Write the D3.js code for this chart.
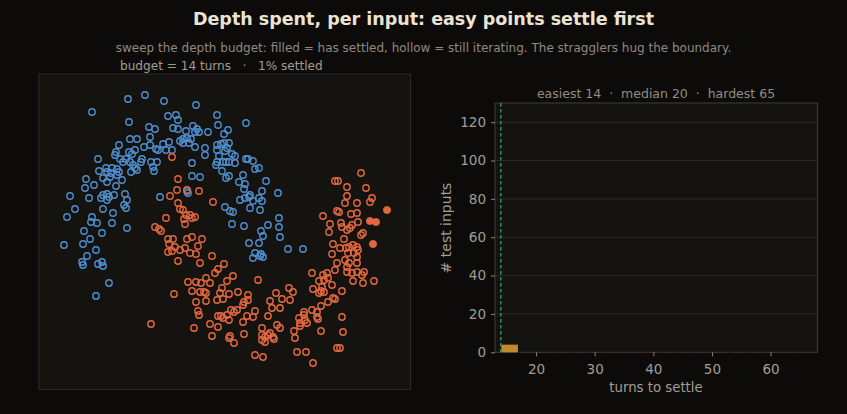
<!DOCTYPE html>
<html>
<head>
<meta charset="utf-8">
<script src="https://cdn.jsdelivr.net/npm/d3@7"></script>
<style>
html, body { margin: 0; background: #0c0b0a; }
svg { display: block; font-family: "DejaVu Sans", sans-serif; }
</style>
</head>
<body>
<svg id="chart" width="847" height="414"></svg>
<script>
// points of the two moons (feature units)
var classA = [ // blue moon, still iterating
  [-0.57,1.51],[-0.40,1.55],[-0.21,1.49],[0.11,1.45],[-0.93,1.38],[-0.17,1.34],[-0.09,1.35],[-0.07,1.30],[0.32,1.35],[-0.56,1.28],
  [0.33,1.25],[-0.36,1.23],[-0.30,1.21],[-0.12,1.22],[-0.07,1.21],[0.08,1.24],[0.12,1.21],[0.14,1.18],[0.10,1.18],[0.23,1.18],
  [0.01,1.19],[-0.55,1.11],[-0.48,1.11],[-0.35,1.13],[-0.02,1.11],[0.02,1.12],[0.06,1.11],[-0.05,1.09],[-0.02,1.07],[0.04,1.07],
  [0.10,1.03],[0.20,1.02],[0.32,1.05],[-0.66,1.05],[-0.41,1.03],[-0.35,1.05],[-0.29,1.01],[-0.27,1.00],[-0.22,1.06],[-0.19,1.00],
  [-0.16,1.08],[-0.13,1.00],[-0.56,0.98],[-0.50,1.00],[-0.69,0.98],[-0.70,0.95],[-0.65,0.91],[-0.59,0.91],[-0.62,0.88],[-0.53,0.96],
  [-0.55,0.88],[-0.43,0.91],[-0.44,0.88],[-0.34,0.88],[-0.32,0.83],[-0.31,0.79],[-0.28,0.88],[-0.52,0.85],[-0.50,0.82],[-0.54,0.78],
  [-0.48,0.80],[-0.87,0.91],[0.32,1.00],[0.32,0.88],[0.20,0.95],[0.07,0.87],[0.07,0.74],[0.15,0.73],[-0.86,0.79],[-0.79,0.82],
  [-0.73,0.82],[-0.68,0.81],[-0.78,0.78],[-0.74,0.77],[-0.66,0.78],[-0.82,0.72],[-0.75,0.73],[-0.68,0.75],[-0.63,0.70],[-0.99,0.71],
  [-1.00,0.62],[-0.91,0.65],[-0.78,0.68],[-0.69,0.64],[-1.15,0.54],[-0.96,0.52],[-0.84,0.52],[-0.82,0.55],[-0.78,0.56],[-0.76,0.53],
  [-0.78,0.50],[-0.71,0.55],[-0.60,0.56],[-0.58,0.50],[-0.82,0.41],[-1.10,0.41],[-1.18,0.33],[-0.93,0.33],[-0.94,0.28],[-0.88,0.27],
  [-0.72,0.37],[-0.73,0.27],[-0.61,0.45],[-0.59,0.42],[-0.25,0.53],[0.02,0.59],[0.03,0.57],
  [0.61,1.27],[0.39,1.16],[0.43,1.20],[0.36,1.06],[0.39,1.07],[0.44,1.07],[0.34,0.94],[0.40,0.99],[0.42,1.02],[0.47,0.96],
  [0.50,0.94],[0.31,0.85],[0.38,0.88],[0.41,0.88],[0.44,0.88],[0.50,0.87],[0.37,0.79],[0.41,0.72],[0.44,0.74],[0.58,0.75],
  [0.54,0.68],[0.60,0.66],[0.59,0.61],[0.61,0.91],[0.63,0.91],[0.68,0.89],[0.70,0.81],[0.74,0.82],[0.81,0.69],[0.77,0.59],
  [0.65,0.55],[0.55,0.50],[0.60,0.52],[0.64,0.53],[0.68,0.49],[0.74,0.52],[0.77,0.49],[0.93,0.57],[0.40,0.43],[0.45,0.39],
  [0.48,0.38],[0.65,0.42],[0.75,0.40],[0.47,0.26],[0.83,0.25],[0.94,0.32],
  [-0.58,0.22],[-1.01,0.19],[-0.83,0.17],[-0.95,0.11],[-1.21,0.05],[-1.02,0.06],[-0.89,0.00],[-0.98,-0.06],[-1.03,-0.12],[-1.02,-0.15],
  [-0.87,-0.14],[-0.83,-0.12],[-0.82,-0.16],[-0.76,-0.33],[-0.89,-0.46],
  [0.59,0.24],[0.76,0.19],[0.94,0.23],[0.95,0.13],[0.78,0.14],[0.64,0.07],[0.74,0.07],[1.03,0.01],[1.18,0.01],[0.70,-0.03],
  [0.68,-0.08],[0.76,-0.04],[0.78,-0.07],[0.75,-0.06]
];

var classB = [ // orange moon, still iterating
  [-0.13,0.93],[-0.07,0.71],[-0.08,0.60],[0.02,0.60],[0.14,0.59],[-0.15,0.54],[-0.07,0.47],[-0.05,0.41],[-0.02,0.40],[0.01,0.35],
  [0.05,0.35],[0.10,0.33],[0.07,0.32],[-0.01,0.31],[-0.19,0.32],[0.28,0.48],[0.00,0.26],
  [1.50,0.69],[1.53,0.69],[1.76,0.77],[1.62,0.63],[1.81,0.62],[1.62,0.54],[1.72,0.47],[1.60,0.47],[1.87,0.52],[1.85,0.48],
  [1.52,0.39],[1.54,0.38],[1.66,0.36],[1.72,0.37],[1.38,0.34],[1.45,0.26],[1.56,0.27],[1.67,0.25],[1.73,0.28],
  [-0.30,0.23],[-0.26,0.21],[-0.24,0.19],[-0.17,0.11],[-0.12,0.11],[-0.16,0.06],[-0.17,-0.02],[-0.13,-0.01],[-0.10,0.03],[-0.05,0.00],
  [0.00,0.02],[0.02,0.11],[0.07,0.13],[0.17,0.11],[0.13,0.04],[0.05,-0.03],[0.11,-0.04],[0.27,-0.06],[-0.07,-0.11],[0.15,-0.13],
  [0.33,-0.19],[0.30,-0.23],[0.03,-0.32],[0.11,-0.32],[0.21,-0.28],[0.16,-0.33],[0.25,-0.33],[0.07,-0.41],[0.15,-0.42],[0.19,-0.42],
  [0.21,-0.43],[-0.11,-0.44],[0.32,-0.50],[0.11,-0.52],[0.21,-0.51],[0.13,-0.61],[0.14,-0.65],[0.33,-0.66],[-0.34,-0.74],[0.09,-0.78],
  [0.25,-0.74],[0.33,-0.77],[0.27,-0.86],
  [0.39,-0.14],[0.48,-0.26],[0.42,-0.31],[0.37,-0.38],[0.35,-0.43],[0.38,-0.49],[0.44,-0.44],[0.53,-0.42],[0.63,-0.45],[0.63,-0.50],
  [0.59,-0.52],[0.58,-0.55],[0.73,-0.30],[0.85,-0.51],[0.91,-0.43],[0.97,-0.49],[1.04,-0.38],[1.08,-0.42],[1.05,-0.50],[0.95,-0.58],
  [0.87,-0.58],[0.83,-0.66],[0.70,-0.61],[0.68,-0.67],[0.62,-0.66],[0.58,-0.72],[0.52,-0.60],[0.49,-0.62],[0.46,-0.60],[0.42,-0.65],
  [0.38,-0.68],[0.36,-0.66],[0.44,-0.70],[0.45,-0.86],[0.44,-0.88],[0.49,-0.93],[0.59,-0.84],[0.77,-0.78],[0.85,-0.83],[0.77,-0.85],
  [0.80,-0.87],[0.83,-0.85],[0.92,-0.75],[0.95,-0.78],[0.88,-0.87],[0.89,-0.89],[0.77,-0.90],[0.80,-0.92],[0.70,-1.05],[0.78,-1.07],
  [1.09,-0.81],[1.10,-0.88],[1.15,-0.73],[1.19,-0.65],[1.20,-0.70],[1.22,-0.73],[1.15,-0.76],[1.14,-0.68],[1.19,-0.62],[1.27,-0.60],
  [1.32,-0.62],[1.32,-0.67],[1.33,-0.69],[1.36,-0.81],[1.28,-1.13],[1.12,-1.02],[1.21,-1.02],[1.52,-0.98],[1.55,-0.98],[1.57,-0.67],
  [1.58,-0.82],[1.27,-0.23],[1.34,-0.31],[1.39,-0.30],[1.38,-0.25],[1.42,-0.23],[1.43,-0.28],[1.47,-0.35],[1.47,-0.04],[1.48,0.06],
  [1.44,0.18],[1.57,0.23],[1.62,0.20],[1.65,0.22],[1.78,0.17],[1.76,0.15],[1.59,0.11],[1.55,0.02],[1.61,0.02],[1.64,0.03],
  [1.68,0.05],[1.72,0.03],[1.69,-0.03],[1.60,-0.10],[1.64,-0.13],[1.72,-0.13],[1.52,-0.13],[1.50,-0.20],[1.62,-0.22],[1.67,-0.23],
  [1.72,-0.22],[1.77,-0.25],[1.79,-0.22],[1.68,-0.31],[1.78,-0.33],[1.89,-0.31],[1.62,-0.17],[1.73,0.00],[1.63,-0.03],[1.72,-0.07],
  [1.48,-0.48],[1.50,-0.49],[1.36,-0.56],[1.37,-0.37],[1.34,-0.43],[1.28,-0.39],[1.36,-0.41],[1.39,-0.42],[1.57,-0.41],[1.43,-0.52]
];

var settledB = [[2.02,0.40],[1.85,0.29],[1.91,0.28],[1.88,0.06]]; // filled = has settled

var scatterX = [-1.46, 2.255];
var scatterY = [-1.395, 1.76];

// histogram of turns to settle (only settled inputs so far)
var binEdges = [14,17,20,23,26,29,32,35,38,41,44,47,50,53,56,59,62,65];
var binCounts = [4,0,0,0,0,0,0,0,0,0,0,0,0,0,0,0,0];
var budget = 14;
var histX = [13, 68];
var histY = [0, 130];
var xTicks = [20,30,40,50,60];
var yTicks = [0,20,40,60,80,100,120];
var stats = { easiest: 14, median: 20, hardest: 65 };

var blue = "#4d8fd1", orange = "#e2673f";
var svg = d3.select("#chart");

// titles
svg.append("text")
    .attr("x", 423.5).attr("y", 25).attr("text-anchor", "middle")
    .attr("font-size", 17.5).attr("font-weight", "bold").attr("fill", "#ece3d2")
    .text("Depth spent, per input: easy points settle first");
svg.append("text")
    .attr("x", 423.5).attr("y", 51.5).attr("text-anchor", "middle")
    .attr("font-size", 12).attr("fill", "#8f897f")
    .text("sweep the depth budget: filled = has settled, hollow = still iterating. The stragglers hug the boundary.");
svg.append("text")
    .attr("x", 120).attr("y", 69.5).attr("font-size", 12.1).attr("fill", "#a39c90")
    .style("white-space", "pre")
    .text("budget = " + budget + " turns   \u00b7   1% settled");

// left panel: the scatter
var sx = d3.scaleLinear().domain(scatterX).range([39, 410.5]);
var sy = d3.scaleLinear().domain(scatterY).range([389.5, 74]);

svg.append("rect")
    .attr("x", 39).attr("y", 74).attr("width", 371.5).attr("height", 315.5)
    .attr("fill", "#15130f").attr("stroke", "#2c2a26").attr("stroke-width", 1);

var pts = svg.append("g");
pts.selectAll("circle.a").data(classA).enter().append("circle")
    .attr("class", "a")
    .attr("cx", function(d) { return sx(d[0]); })
    .attr("cy", function(d) { return sy(d[1]); })
    .attr("r", 3.2).attr("fill", "none").attr("stroke", blue).attr("stroke-width", 1.4);
pts.selectAll("circle.b").data(classB).enter().append("circle")
    .attr("class", "b")
    .attr("cx", function(d) { return sx(d[0]); })
    .attr("cy", function(d) { return sy(d[1]); })
    .attr("r", 3.2).attr("fill", "none").attr("stroke", orange).attr("stroke-width", 1.4);
pts.selectAll("circle.s").data(settledB).enter().append("circle")
    .attr("class", "s")
    .attr("cx", function(d) { return sx(d[0]); })
    .attr("cy", function(d) { return sy(d[1]); })
    .attr("r", 3.6).attr("fill", orange).attr("stroke", orange).attr("stroke-width", 0.8);

// right panel: histogram
var hx = d3.scaleLinear().domain(histX).range([495, 817.5]);
var hy = d3.scaleLinear().domain(histY).range([352.3, 103]);

svg.append("rect")
    .attr("x", 495).attr("y", 103).attr("width", 322.5).attr("height", 249.3)
    .attr("fill", "#15130f");

svg.append("g").selectAll("line").data(yTicks.filter(function(t) { return t > 0; })).enter().append("line")
    .attr("x1", 495).attr("x2", 817.5)
    .attr("y1", function(d) { return hy(d); }).attr("y2", function(d) { return hy(d); })
    .attr("stroke", "#2d2a25").attr("stroke-width", 1);

svg.append("rect")
    .attr("x", 495).attr("y", 103).attr("width", 322.5).attr("height", 249.3)
    .attr("fill", "none").attr("stroke", "#3a3630").attr("stroke-width", 1.2);

// small breaks along the base between bins
svg.append("g").selectAll("rect").data(binEdges.slice(1)).enter().append("rect")
    .attr("x", function(d) { return hx(d) - 0.6; }).attr("y", 351.3)
    .attr("width", 1.2).attr("height", 2)
    .attr("fill", "#15130f");

var bins = binCounts.map(function(c, i) { return { x0: binEdges[i], x1: binEdges[i + 1], n: c }; });
svg.append("g").selectAll("rect").data(bins.filter(function(b) { return b.n > 0; })).enter().append("rect")
    .attr("x", function(d) { return hx(d.x0) + 0.5; })
    .attr("width", function(d) { return hx(d.x1) - hx(d.x0) - 1; })
    .attr("y", function(d) { return hy(d.n); })
    .attr("height", function(d) { return hy(0) - hy(d.n); })
    .attr("fill", "#bf8a2d");

svg.append("line")
    .attr("x1", hx(budget)).attr("x2", hx(budget))
    .attr("y1", 103).attr("y2", 352.3)
    .attr("stroke", "#33a36c").attr("stroke-width", 1.3).attr("stroke-dasharray", "3.5,2.5");

var yAxis = svg.append("g").attr("transform", "translate(495,0)")
    .call(d3.axisLeft(hy).tickValues(yTicks).tickSize(4).tickPadding(5));
var xAxis = svg.append("g").attr("transform", "translate(0,352.3)")
    .call(d3.axisBottom(hx).tickValues(xTicks).tickSize(4).tickPadding(8));
[yAxis, xAxis].forEach(function(ax) {
    ax.select(".domain").remove();
    ax.selectAll(".tick line").attr("stroke", "#8a8478");
    ax.selectAll(".tick text").attr("fill", "#a49d91")
        .attr("font-size", 13.5).attr("font-family", "DejaVu Sans, sans-serif");
});

svg.append("text")
    .attr("x", 656).attr("y", 392).attr("text-anchor", "middle")
    .attr("font-size", 13.3).attr("fill", "#a49d91")
    .text("turns to settle");
svg.append("text")
    .attr("transform", "translate(451,228) rotate(-90)").attr("text-anchor", "middle")
    .attr("font-size", 14).attr("fill", "#a49d91")
    .text("# test inputs");
svg.append("text")
    .attr("x", 656).attr("y", 98).attr("text-anchor", "middle")
    .attr("font-size", 12.5).attr("fill", "#938d82")
    .style("white-space", "pre")
    .text("easiest " + stats.easiest + "  \u00b7  median " + stats.median + "  \u00b7  hardest " + stats.hardest);
</script>
</body>
</html>
